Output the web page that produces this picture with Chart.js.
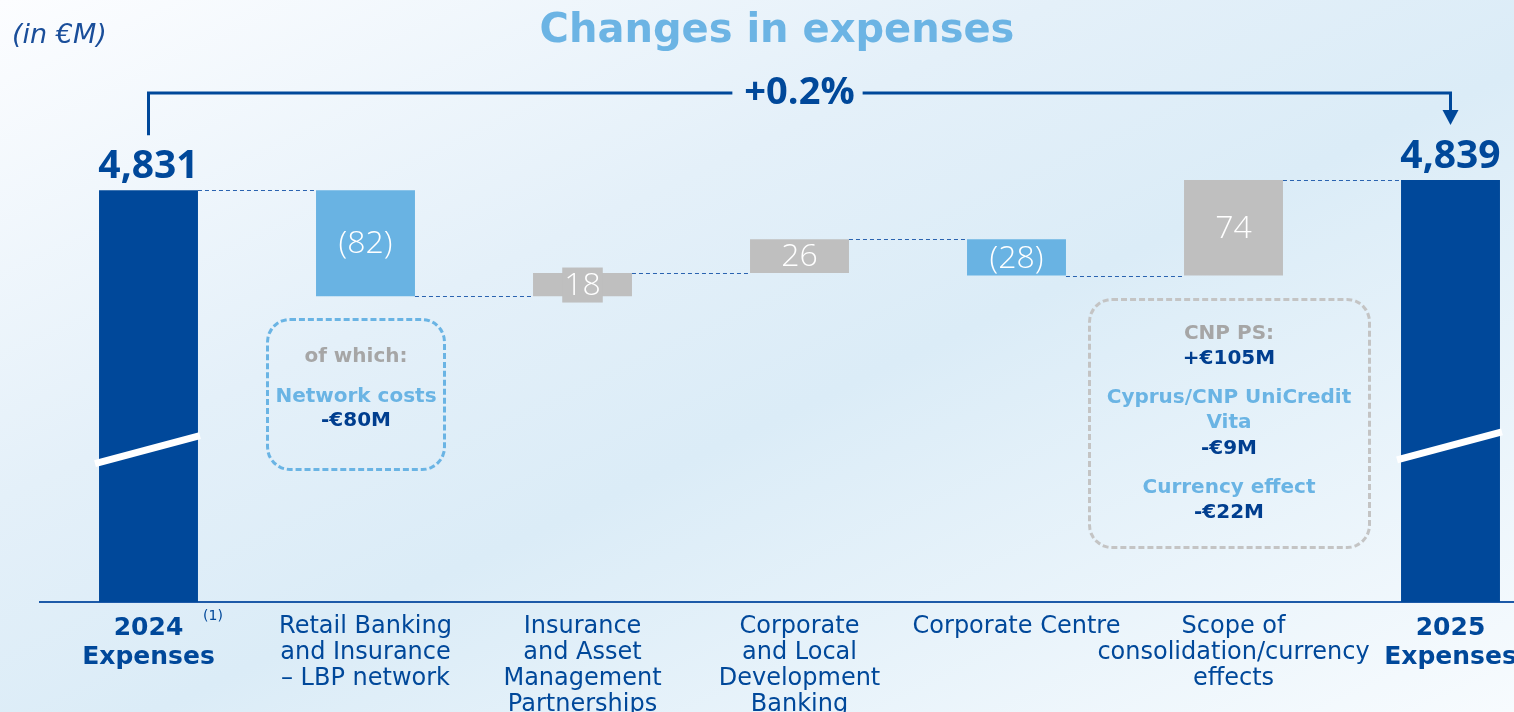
<!DOCTYPE html>
<html>
<head>
<meta charset="utf-8">
<script src="https://cdn.jsdelivr.net/npm/chart.js@4.4.1/dist/chart.umd.min.js"></script>
<style>
  html, body { margin: 0; padding: 0; width: 1514px; height: 712px; overflow: hidden; }
  body {
    position: relative;
    font-family: "DejaVu Sans", sans-serif;
    background: linear-gradient(to bottom right, #fcfdff 0%, #e4f0f9 35%, #dbecf7 55%, #f7fbfe 100%);
  }
  #wrap { position: absolute; left: 0; top: 0; width: 1559px; height: 712px; }
  .txt { position: absolute; white-space: nowrap; transform: translate(-50%, -50%); line-height: 1; }
  .box { position: absolute; box-sizing: border-box; border-radius: 24px; }
</style>
</head>
<body>
<div id="wrap"><canvas id="chart"></canvas></div>
<script>
// values in €M
const categories = [
  ['2024', 'Expenses'],
  ['Retail Banking', 'and Insurance', '– LBP network'],
  ['Insurance', 'and Asset', 'Management', 'Partnerships'],
  ['Corporate', 'and Local', 'Development', 'Banking'],
  ['Corporate Centre'],
  ['Scope of', 'consolidation/currency', 'effects'],
  ['2025', 'Expenses']
];
const startTotal = 4831;
const endTotal = 4839;
const changes = [-82, 18, 26, -28, 74];
const totalLabels = ['4,831', '4,839'];
const changeLabels = ['(82)', '18', '26', '(28)', '74'];
const yMin = 4512;
const yMax = 4901;

const NAVY = '#00489a';
const LIGHT = '#69b3e3';
const GREY = '#bfbfbf';

// waterfall ranges
const ranges = [[yMin, startTotal]];
const levels = [startTotal];
let level = startTotal;
changes.forEach(c => {
  ranges.push([level, level + c]);
  level += c;
  levels.push(level);
});
ranges.push([yMin, endTotal]);
levels.push(endTotal);

const colors = ranges.map((r, i) => {
  if (i === 0 || i === ranges.length - 1) return NAVY;
  return changes[i - 1] < 0 ? LIGHT : GREY;
});

const waterfallDecor = {
  id: 'waterfallDecor',
  afterDatasetsDraw(chart) {
    const ctx = chart.ctx;
    const bars = chart.getDatasetMeta(0).data;
    const y = chart.scales.y;
    const last = bars.length - 1;

    // dashed connectors
    ctx.save();
    ctx.strokeStyle = '#2a63b0';
    ctx.lineWidth = 1;
    ctx.setLineDash([4, 3]);
    for (let i = 0; i < last; i++) {
      const py = Math.round(y.getPixelForValue(levels[i])) + 0.5;
      ctx.beginPath();
      ctx.moveTo(bars[i].x + bars[i].width / 2, py);
      ctx.lineTo(bars[i + 1].x - bars[i + 1].width / 2, py);
      ctx.stroke();
    }
    ctx.restore();

    // axis breaks on totals
    [0, last].forEach(i => {
      const b = bars[i];
      const top = Math.min(b.y, b.base);
      const yc = top + (Math.max(b.y, b.base) - top) * 0.63;
      ctx.save();
      ctx.strokeStyle = '#ffffff';
      ctx.lineWidth = 7;
      ctx.beginPath();
      ctx.moveTo(b.x - b.width / 2 - 4, yc + 14);
      ctx.lineTo(b.x + b.width / 2 + 2, yc - 14);
      ctx.stroke();
      ctx.restore();
    });

    // total labels
    ctx.save();
    ctx.fillStyle = NAVY;
    ctx.font = 'bold 39px "Open Sans"';
    ctx.textAlign = 'center';
    ctx.textBaseline = 'alphabetic';
    [0, last].forEach((i, k) => {
      const b = bars[i];
      ctx.fillText(totalLabels[k], b.x, Math.min(b.y, b.base) - 12);
    });
    ctx.restore();

    // change labels
    ctx.save();
    ctx.font = '300 32px "Open Sans"';
    ctx.textAlign = 'center';
    ctx.textBaseline = 'middle';
    for (let i = 1; i < last; i++) {
      const b = bars[i];
      const top = Math.min(b.y, b.base);
      const h = Math.abs(b.base - b.y);
      const cy = top + h / 2;
      const label = changeLabels[i - 1];
      if (h < 32) {
        const w = ctx.measureText(label).width + 4;
        ctx.fillStyle = colors[i];
        ctx.fillRect(b.x - w / 2, cy - 17, w, 35);
      }
      ctx.fillStyle = '#ffffff';
      ctx.fillText(label, b.x, cy + 1);
    }
    ctx.restore();

    // bracket with percentage change
    const x0 = bars[0].x;
    const x1 = bars[last].x;
    const by = chart.chartArea.top - 7;
    const pct = (endTotal - startTotal) / startTotal * 100;
    const pctText = (pct >= 0 ? '+' : '') + pct.toFixed(1) + '%';
    ctx.save();
    ctx.font = 'bold 38px "Open Sans"';
    const tw = ctx.measureText(pctText).width;
    const mid = (x0 + x1) / 2;
    ctx.strokeStyle = NAVY;
    ctx.lineWidth = 3;
    ctx.beginPath();
    ctx.moveTo(x0, Math.min(bars[0].y, bars[0].base) - 55);
    ctx.lineTo(x0, by);
    ctx.lineTo(mid - tw / 2 - 12, by);
    ctx.moveTo(mid + tw / 2 + 8, by);
    ctx.lineTo(x1, by);
    ctx.lineTo(x1, by + 18);
    ctx.stroke();
    ctx.fillStyle = NAVY;
    ctx.beginPath();
    ctx.moveTo(x1 - 8, by + 17);
    ctx.lineTo(x1 + 8, by + 17);
    ctx.lineTo(x1, by + 32);
    ctx.closePath();
    ctx.fill();
    ctx.textAlign = 'center';
    ctx.textBaseline = 'middle';
    ctx.fillText(pctText, mid, by);
    ctx.restore();
  }
};

const chart = new Chart(document.getElementById('chart'), {
  type: 'bar',
  data: {
    labels: categories,
    datasets: [{
      data: ranges,
      backgroundColor: colors,
      borderWidth: 0,
      categoryPercentage: 1,
      barPercentage: 0.456
    }]
  },
  options: {
    responsive: true,
    maintainAspectRatio: false,
    animation: false,
    layout: { padding: { top: 100, left: 40, right: 0, bottom: 0 } },
    plugins: { legend: { display: false }, tooltip: { enabled: false } },
    scales: {
      x: {
        grid: { display: false, drawTicks: false },
        border: { display: true, color: '#1d5aa8', width: 2 },
        ticks: {
          padding: 12,
          maxRotation: 0,
          autoSkip: false,
          color: NAVY,
          font: c => {
            const bold = c.index === 0 || c.index === categories.length - 1;
            return bold
              ? { family: 'DejaVu Sans', size: 25, weight: 'bold', lineHeight: '29px' }
              : { family: 'DejaVu Sans', size: 24, weight: 'normal', lineHeight: '26px' };
          }
        },
        afterFit: scale => { scale.height = 110; }
      },
      y: { display: false, min: yMin, max: yMax }
    }
  },
  plugins: [waterfallDecor]
});

// text overlays
function addText(text, cx, cy, style) {
  const d = document.createElement('div');
  d.className = 'txt';
  d.textContent = text;
  d.style.left = cx + 'px';
  d.style.top = cy + 'px';
  Object.assign(d.style, style);
  document.body.appendChild(d);
}
function addBox(x, y, w, h, color) {
  const d = document.createElement('div');
  d.className = 'box';
  Object.assign(d.style, { left: x + 'px', top: y + 'px', width: w + 'px', height: h + 'px', border: '3px dashed ' + color });
  document.body.appendChild(d);
}

addText('Changes in expenses', 777, 28, { font: 'bold 40px "DejaVu Sans"', color: '#6cb4e4' });
addText('(in €M)', 12, 33, { font: 'oblique 27px "DejaVu Sans"', color: '#1a4e9a', transform: 'translate(0, -50%)' });
addText('(1)', 213, 615, { font: '14px "DejaVu Sans"', color: NAVY });

const ann = { font: 'bold 20px "DejaVu Sans"' };
addBox(266, 318, 180, 153, '#6ab4e4');
addText('of which:', 356, 355, Object.assign({ color: '#a6a6a6' }, ann));
addText('Network costs', 356, 395, Object.assign({ color: '#6ab4e4' }, ann));
addText('-€80M', 356, 419, Object.assign({ color: '#003e8f' }, ann));

addBox(1088, 298, 283, 251, '#c4c4c4');
addText('CNP PS:', 1229, 332, Object.assign({ color: '#a6a6a6' }, ann));
addText('+€105M', 1229, 357, Object.assign({ color: '#003e8f' }, ann));
addText('Cyprus/CNP UniCredit', 1229, 396, Object.assign({ color: '#6ab4e4' }, ann));
addText('Vita', 1229, 421, Object.assign({ color: '#6ab4e4' }, ann));
addText('-€9M', 1229, 447, Object.assign({ color: '#003e8f' }, ann));
addText('Currency effect', 1229, 486, Object.assign({ color: '#6ab4e4' }, ann));
addText('-€22M', 1229, 511, Object.assign({ color: '#003e8f' }, ann));
</script>
</body>
</html>
